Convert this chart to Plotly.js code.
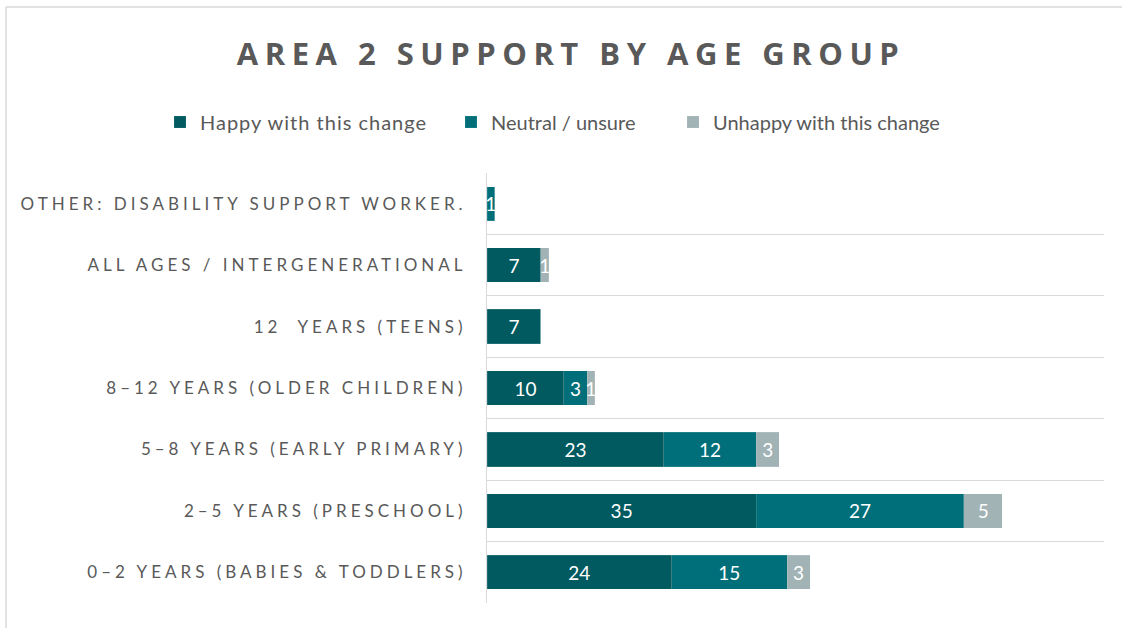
<!DOCTYPE html>
<html>
<head>
<meta charset="utf-8">
<script src="https://cdn.plot.ly/plotly-3.0.1.min.js"></script>
<style>
html,body{margin:0;padding:0;background:#fff;}
#chart{width:1122px;height:628px;}
.ytick text{letter-spacing:4px;}
.gtitle{letter-spacing:6.5px;}
.legendtext{letter-spacing:1px;}
</style>
</head>
<body>
<div id="chart"></div>
<script>
const categories = [
  "0\u20132 YEARS (BABIES & TODDLERS)",
  "2\u20135 YEARS (PRESCHOOL)",
  "5\u20138 YEARS (EARLY PRIMARY)",
  "8\u201312 YEARS (OLDER CHILDREN)",
  "12\u00a0\u00a0YEARS (TEENS)",
  "ALL AGES / INTERGENERATIONAL",
  "OTHER: DISABILITY SUPPORT WORKER."
];
const happy   = [24, 35, 23, 10, 7, 7, 0];
const neutral = [15, 27, 12, 3, 0, 0, 1];
const unhappy = [3, 5, 3, 1, 0, 1, 0];
const seriesNames = ["Happy with this change", "Neutral / unsure", "Unhappy with this change"];
const seriesColors = ["#005A5F", "#006F79", "#A2B3B6"];
const legendIds = ["legend", "legend2", "legend3"];

const lbl = arr => arr.map(v => v ? String(v) : "");
const mk = (vals, i) => ({
  type: "bar", orientation: "h",
  name: seriesNames[i], x: vals, y: categories, legend: legendIds[i],
  text: lbl(vals), textposition: "inside", insidetextanchor: "middle",
  textangle: 0, constraintext: "none", cliponaxis: false,
  textfont: {family: "Lato, sans-serif", size: 19, color: "#ffffff"},
  marker: {color: seriesColors[i], line: {width: 0.5, color: "rgba(255,255,255,0.25)"}},
  hoverinfo: "x+name"
});
const data = [mk(happy, 0), mk(neutral, 1), mk(unhappy, 2)];

const legBase = px => ({orientation: "h", xref: "paper", yref: "paper", x: (px-487)/617, xanchor: "left",
  y: (603-122)/430, yanchor: "middle", bgcolor: "rgba(0,0,0,0)",
  font: {family: "Lato, sans-serif", size: 20, color: "#595959"}});

const layout = {
  width: 1122, height: 628,
  margin: {l: 487, r: 18, t: 173, b: 25},
  paper_bgcolor: "#ffffff", plot_bgcolor: "#ffffff",
  barmode: "stack", bargap: 0.44,
  font: {family: "Lato, sans-serif", color: "#595959"},
  title: {text: "<b>AREA 2 SUPPORT BY AGE GROUP</b>", x: 0.509, xref: "container", xanchor: "center",
          y: 1 - 54/628, yref: "container", yanchor: "middle",
          font: {family: "'Open Sans', sans-serif", size: 31, color: "#595959"}},
  showlegend: true,
  legend: legBase(160),
  legend2: legBase(451),
  legend3: legBase(673),
  xaxis: {range: [0, 80.2], showgrid: false, zeroline: false, showticklabels: false, showline: false, fixedrange: true},
  yaxis: {type: "category", categoryorder: "array", categoryarray: categories,
          tickson: "boundaries", showgrid: true, gridcolor: "#D9D9D9", gridwidth: 1,
          showline: true, linecolor: "#D9D9D9", linewidth: 1, ticks: "", ticklabelstandoff: 16,
          tickfont: {family: "Lato, sans-serif", size: 17, color: "#595959"}, fixedrange: true},
  shapes: [
    {type: "line", xref: "paper", yref: "paper", x0: (6-487)/617, x1: (1122-487)/617, y0: (603-7)/430, y1: (603-7)/430,
     line: {color: "#D9D9D9", width: 1.5}},
    {type: "line", xref: "paper", yref: "paper", x0: (6-487)/617, x1: (6-487)/617, y0: (603-7)/430, y1: (603-628)/430,
     line: {color: "#D9D9D9", width: 1.5}}
  ]
};
Plotly.newPlot("chart", data, layout, {displayModeBar: false, staticPlot: true});
</script>
</body>
</html>
